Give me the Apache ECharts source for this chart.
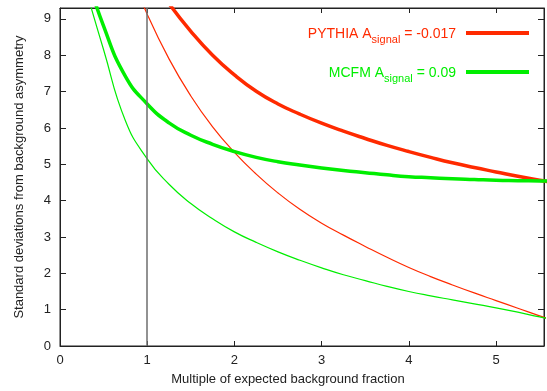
<!DOCTYPE html>
<html>
<head>
    <meta charset="utf-8">
    <title>Asymmetry significance</title>
    <script src="https://cdn.jsdelivr.net/npm/echarts@6/dist/echarts.min.js"></script>
    <style>
        html, body {margin: 0; padding: 0; background: #fff;}
        #main {width: 547px; height: 391px;}
    </style>
</head>
<body>
<div id="main"></div>
<script type="text/javascript">
    // values (x = multiple of background fraction, y = std devs)
    // first/last points run a little past the frame and get clipped
    var pythiaThickX = [1.0, 1.25, 1.5, 1.75, 2.0, 2.25, 2.5, 2.75, 3.0, 3.25, 3.5, 3.75, 4.0, 4.25, 4.5, 4.75, 5.0, 5.25, 5.5, 5.75];
    var pythiaThickY = [10.3, 9.42, 8.66, 8.0, 7.46, 7.01, 6.66, 6.38, 6.13, 5.91, 5.71, 5.52, 5.35, 5.19, 5.04, 4.91, 4.79, 4.67, 4.56, 4.46];

    var pythiaThinX = [0.75, 1.0, 1.25, 1.5, 1.75, 2.0, 2.25, 2.5, 2.75, 3.0, 3.25, 3.5, 3.75, 4.0, 4.25, 4.5, 4.75, 5.0, 5.25, 5.5, 5.75];
    var pythiaThinY = [10.58, 9.13, 7.9, 6.88, 6.03, 5.33, 4.73, 4.21, 3.76, 3.38, 3.05, 2.74, 2.44, 2.16, 1.91, 1.68, 1.46, 1.25, 1.04, 0.83, 0.63];

    var mcfmThickX = [0.25, 0.5, 0.75, 1.0, 1.25, 1.5, 1.75, 2.0, 2.25, 2.5, 2.75, 3.0, 3.25, 3.5, 3.75, 4.0, 4.25, 4.5, 4.75, 5.0, 5.25, 5.5, 5.75];
    var mcfmThickY = [10.6, 8.8, 7.42, 6.66, 6.14, 5.8, 5.55, 5.35, 5.19, 5.07, 4.98, 4.9, 4.83, 4.77, 4.71, 4.66, 4.63, 4.6, 4.58, 4.56, 4.55, 4.54, 4.53];

    var mcfmThinX = [0.25, 0.5, 0.75, 1.0, 1.25, 1.5, 1.75, 2.0, 2.25, 2.5, 2.75, 3.0, 3.25, 3.5, 3.75, 4.0, 4.25, 4.5, 4.75, 5.0, 5.25, 5.5, 5.75];
    var mcfmThinY = [10.2, 8.15, 6.2, 5.15, 4.45, 3.92, 3.5, 3.14, 2.85, 2.59, 2.36, 2.15, 1.96, 1.8, 1.64, 1.5, 1.38, 1.27, 1.16, 1.05, 0.93, 0.8, 0.68];

    var xTicks = [0, 1, 2, 3, 4, 5];
    var yTicks = [0, 1, 2, 3, 4, 5, 6, 7, 8, 9];
    var markerX = 1;

    var red = '#ff2a00';
    var green = '#00ee00';
    var pythiaName = 'PYTHIA A_signal = -0.017';
    var mcfmName = 'MCFM A_signal = 0.09';

    function pairs(xs, ys) {
        var out = [];
        for (var i = 0; i < xs.length; i++) {
            out.push([xs[i], ys[i]]);
        }
        return out;
    }

    function onlyTicks(list) {
        return function (v) {
            return list.indexOf(v) >= 0 ? String(v) : '';
        };
    }

    var font = '"Liberation Sans", Arial, sans-serif';
    var ink = '#222';

    var myChart = echarts.init(document.getElementById('main'));

    myChart.setOption({
        animation: false,
        backgroundColor: '#fff',
        textStyle: {fontFamily: font},
        grid: {left: 60, right: 1, top: 8, bottom: 45, show: true, borderColor: ink, borderWidth: 1},
        legend: {
            orient: 'vertical',
            right: 13,
            top: 22,
            align: 'right',
            itemGap: 21,
            itemWidth: 63,
            itemHeight: 4,
            icon: 'rect',
            selectedMode: false,
            data: [
                {name: pythiaName, textStyle: {color: red}},
                {name: mcfmName, textStyle: {color: green}}
            ],
            formatter: function (name) {
                var parts = name.split('_signal');
                return '{a|' + parts[0] + '}{s|signal}{a|' + parts[1] + '}';
            },
            textStyle: {
                fontSize: 14,
                padding: [0, 5, 0, 0],
                rich: {
                    a: {fontSize: 14, fontFamily: font, verticalAlign: 'bottom', lineHeight: 16},
                    s: {fontSize: 11, fontFamily: font, verticalAlign: 'bottom', lineHeight: 16, padding: [0, 0, -4, 0]}
                }
            }
        },
        xAxis: [
            {
                type: 'value',
                position: 'bottom',
                min: 0,
                max: 5.55,
                interval: 1,
                name: 'Multiple of expected background fraction',
                nameLocation: 'middle',
                nameGap: 27,
                nameTextStyle: {fontSize: 13, color: ink, padding: [0, 28, 0, 0]},
                splitLine: {show: false},
                axisLine: {lineStyle: {color: ink, width: 1}},
                axisTick: {inside: true, length: 5, lineStyle: {color: ink}},
                axisLabel: {fontSize: 13, color: ink, margin: 8, formatter: onlyTicks(xTicks)}
            },
            {
                type: 'value',
                position: 'top',
                min: 0,
                max: 5.55,
                interval: 1,
                splitLine: {show: false},
                axisLine: {show: true, onZero: false, lineStyle: {color: ink, width: 1}},
                axisTick: {show: true, inside: true, length: 5, lineStyle: {color: ink}},
                axisLabel: {show: false}
            }
        ],
        yAxis: [
            {
                type: 'value',
                position: 'left',
                min: 0,
                max: 9.3,
                interval: 1,
                name: 'Standard deviations from background asymmetry',
                nameLocation: 'middle',
                nameGap: 34,
                nameTextStyle: {fontSize: 13, color: ink},
                splitLine: {show: false},
                axisLine: {lineStyle: {color: ink, width: 1}},
                axisTick: {inside: true, length: 6, lineStyle: {color: ink}},
                axisLabel: {fontSize: 13, color: ink, margin: 9, formatter: onlyTicks(yTicks)}
            },
            {
                type: 'value',
                position: 'right',
                min: 0,
                max: 9.3,
                interval: 1,
                splitLine: {show: false},
                axisLine: {show: true, onZero: false, lineStyle: {color: ink, width: 1}},
                axisTick: {show: true, inside: true, length: 6, lineStyle: {color: ink}},
                axisLabel: {show: false}
            }
        ],
        series: [
            {
                name: 'PYTHIA thin',
                type: 'line',
                xAxisIndex: 1,
                yAxisIndex: 1,
                showSymbol: false,
                smooth: 0.5,
                lineStyle: {color: red, width: 1.2},
                itemStyle: {color: red},
                data: pairs(pythiaThinX, pythiaThinY),
                markLine: {
                    silent: true,
                    symbol: 'none',
                    label: {show: false},
                    lineStyle: {color: '#6e6e6e', width: 1.5, type: 'solid'},
                    data: [{xAxis: markerX}]
                }
            },
            {
                name: 'MCFM thin',
                type: 'line',
                showSymbol: false,
                smooth: 0.5,
                lineStyle: {color: green, width: 1.2},
                itemStyle: {color: green},
                data: pairs(mcfmThinX, mcfmThinY)
            },
            {
                name: pythiaName,
                type: 'line',
                showSymbol: false,
                smooth: 0.5,
                lineStyle: {color: red, width: 3.5},
                itemStyle: {color: red},
                data: pairs(pythiaThickX, pythiaThickY)
            },
            {
                name: mcfmName,
                type: 'line',
                showSymbol: false,
                smooth: 0.5,
                lineStyle: {color: green, width: 3.5},
                itemStyle: {color: green},
                data: pairs(mcfmThickX, mcfmThickY)
            }
        ]
    });
</script>
</body>
</html>
